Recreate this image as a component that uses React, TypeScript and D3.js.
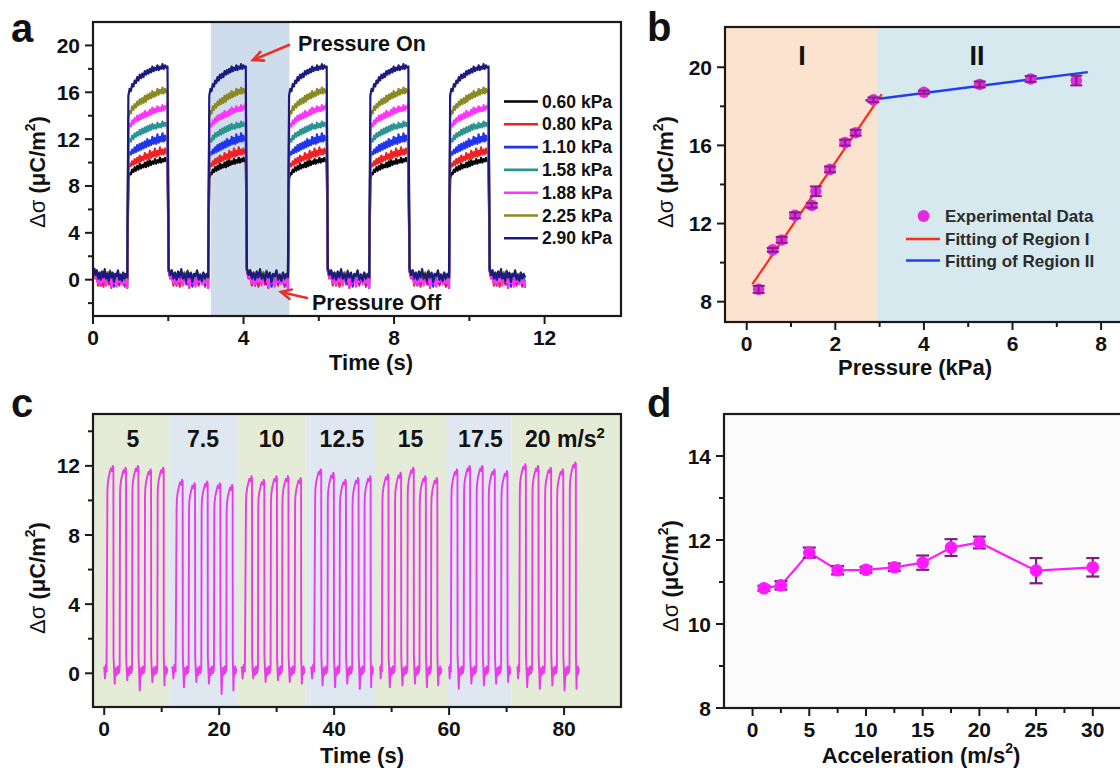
import React from 'react';
import * as d3 from 'd3';

const FONT = '"Liberation Sans", Arial, Helvetica, sans-serif';

// ---------------- Panel a data ----------------
const A_LABELS = ['0.60 kPa', '0.80 kPa', '1.10 kPa', '1.58 kPa', '1.88 kPa', '2.25 kPa', '2.90 kPa'];
const A_COLORS = ['#000000', '#ee2222', '#2233ee', '#2a9490', '#ff33ff', '#8a8a20', '#1a1a80'];
const A_RISE = [0.94, 3.09, 5.21, 7.37, 9.49];
const A_FALL = [1.98, 4.06, 6.21, 8.38, 10.51];
const A_END = 11.51;
const A_SHADE = [3.13, 5.22];
const A_P_BLACK = [8.6, 9.1, 9.0, 9.4, 9.2, 9.6, 9.3, 9.7, 9.4, 9.9, 9.5, 9.8, 9.6, 10.0, 9.6, 10.1, 9.7, 10.2, 9.8, 10.1, 9.9, 10.3, 9.9, 10.2, 10.0, 10.4, 10.0, 10.3, 10.1, 10.4, 10.1, 10.3];
const A_P_RED = [9.5, 9.9, 9.7, 10.1, 9.8, 10.3, 9.9, 10.4, 10.0, 10.6, 10.1, 10.5, 10.2, 10.8, 10.3, 10.7, 10.3, 11.0, 10.4, 10.9, 10.5, 11.2, 10.5, 11.0, 10.6, 11.3, 10.7, 11.1, 10.7, 11.2, 10.8, 11.0];
const A_P_BLUE = [10.4, 10.9, 10.7, 11.1, 10.8, 11.3, 10.9, 11.5, 11.0, 11.6, 11.1, 11.7, 11.2, 11.8, 11.3, 12.0, 11.4, 11.9, 11.5, 12.2, 11.6, 12.1, 11.6, 12.4, 11.7, 12.2, 11.8, 12.5, 11.8, 12.3, 11.9, 12.2];
const A_P_TEAL = [11.6, 12.0, 11.8, 12.3, 12.0, 12.5, 12.2, 12.6, 12.3, 12.8, 12.4, 12.9, 12.5, 13.0, 12.6, 13.1, 12.7, 13.2, 12.8, 13.3, 12.9, 13.2, 12.9, 13.4, 13.0, 13.3, 13.0, 13.5, 13.1, 13.4, 13.1, 13.4];
const A_P_MAGENTA = [12.8, 13.3, 13.1, 13.6, 13.3, 13.8, 13.5, 14.0, 13.6, 14.1, 13.7, 14.2, 13.8, 14.4, 13.9, 14.3, 14.0, 14.5, 14.1, 14.7, 14.2, 14.6, 14.3, 14.8, 14.4, 14.7, 14.4, 14.9, 14.5, 14.8, 14.6, 15.1];
const A_P_OLIVE = [13.8, 14.4, 14.2, 14.8, 14.5, 15.0, 14.7, 15.2, 14.9, 15.4, 15.0, 15.5, 15.1, 15.7, 15.2, 15.8, 15.4, 15.9, 15.5, 16.1, 15.6, 16.0, 15.7, 16.3, 15.8, 16.2, 15.9, 16.4, 15.9, 16.3, 16.0, 16.2];
const A_P_NAVY = [15.7, 16.3, 16.1, 16.7, 16.5, 17.0, 16.8, 17.3, 17.0, 17.5, 17.2, 17.6, 17.3, 17.8, 17.5, 17.9, 17.6, 18.0, 17.7, 18.2, 17.8, 18.1, 17.9, 18.3, 17.9, 18.2, 18.0, 18.4, 18.0, 18.3, 18.1, 18.2];
const A_B_BLACK = [0.8, 0.2, 0.6, -0.2, 0.4, 0.0, 0.5, -0.3, 0.3, 0.1, 0.6, -0.1, 0.3, -0.4, 0.4, 0.0, 0.2, 0.1, 0.5, -0.2, 0.3, 0.0, 0.4, -0.3, 0.2, 0.1];
const A_B_RED = [0.7, 0.1, 0.4, -0.5, 0.2, -0.3, 0.3, -0.6, 0.1, -0.2, 0.4, -0.4, 0.2, -0.7, 0.3, -0.2, 0.1, -0.3, 0.3, -0.5, 0.2, -0.1, 0.3, -0.6, 0.1, -0.2];
const A_B_BLUE = [0.8, 0.3, 0.5, -0.2, 0.4, -0.5, 0.2, 0.0, 0.5, -0.3, 0.3, 0.1, -0.4, 0.2, 0.4, -0.6, 0.2, 0.0, 0.4, -0.3, 0.3, -0.1, 0.5, -0.4, 0.2, -0.7];
const A_B_TEAL = [0.9, 0.4, 0.6, 0.1, 0.5, -0.1, 0.4, 0.2, 0.6, 0.0, 0.3, 0.5, 0.1, 0.4, -0.2, 0.3, 0.5, 0.1, 0.6, 0.0, 0.4, 0.2, 0.5, -0.1, 0.3, 0.2];
const A_B_MAGENTA = [0.8, 0.2, 0.3, -0.3, 0.2, -0.4, 0.1, -0.2, 0.3, -0.5, 0.2, -0.1, 0.1, -0.6, 0.2, -0.3, 0.0, -0.6, 0.2, -0.2, 0.3, -0.4, 0.1, -0.3, 0.0, -0.7];
const A_B_OLIVE = [1.0, 0.5, 0.8, 0.2, 0.6, 0.1, 0.7, 0.3, 0.5, 0.0, 0.6, 0.4, 0.8, 0.2, 0.5, 0.1, 0.4, 0.2, 0.7, 0.1, 0.5, 0.3, 0.6, 0.0, 0.4, 0.2];
const A_B_NAVY = [1.0, 0.4, 0.8, 0.1, 0.6, 0.0, 0.7, 0.2, 0.9, 0.1, 0.5, -0.1, 0.7, 0.2, 0.6, -0.2, 0.5, 0.3, 0.8, 0.0, 0.4, -0.1, 0.6, 0.1, 0.5, 0.2];
const A_PLATEAUS = [A_P_BLACK, A_P_RED, A_P_BLUE, A_P_TEAL, A_P_MAGENTA, A_P_OLIVE, A_P_NAVY];
const A_BASES = [A_B_BLACK, A_B_RED, A_B_BLUE, A_B_TEAL, A_B_MAGENTA, A_B_OLIVE, A_B_NAVY];
const A_DRAW_ORDER = [0, 1, 2, 3, 4, 5, 6];

// ---------------- Panel b data ----------------
const B_X = [0.27, 0.59, 0.79, 1.09, 1.47, 1.56, 1.88, 2.22, 2.46, 2.86, 4.0, 5.26, 6.41, 7.44];
const B_Y = [8.63, 10.65, 11.16, 12.42, 12.93, 13.65, 14.77, 16.14, 16.65, 18.33, 18.72, 19.12, 19.4, 19.32];
const B_ERR = [0.18, 0.1, 0.15, 0.15, 0.12, 0.25, 0.15, 0.15, 0.15, 0.12, 0.08, 0.15, 0.15, 0.25];
const B_FIT1 = [[0.13, 8.9], [3.05, 18.63]];
const B_FIT2 = [[2.68, 18.3], [7.7, 19.75]];
const B_REGION_SPLIT = 2.94;

// ---------------- Panel c data ----------------
const C_BAND_EDGES = [-1.95, 11.4, 23.3, 35.2, 47.1, 59.6, 70.9, 89.9];
const C_BAND_LABELS = ['5', '7.5', '10', '12.5', '15', '17.5', '20'];
const C_GROUP_START = [0.0, 11.85, 23.9, 36.0, 48.0, 60.0, 71.9];
const C_GROUP_END = [11.0, 23.0, 34.9, 46.8, 58.7, 70.7, 82.6];
const C_RISES = [
  [0.55, 2.75, 4.9, 7.1, 9.3],
  [12.6, 14.75, 16.95, 19.15, 21.3],
  [24.66, 26.8, 29.0, 31.0, 33.2],
  [36.7, 38.9, 41.0, 43.2, 45.3],
  [48.4, 50.6, 52.8, 54.9, 56.9],
  [60.4, 62.6, 64.8, 66.9, 69.1],
  [72.3, 74.5, 76.7, 78.8, 81.0],
];
const C_PEAKS = [
  [12.0, 11.9, 12.0, 11.8, 11.9],
  [11.2, 11.0, 11.1, 11.0, 10.9],
  [11.4, 11.2, 11.4, 11.4, 11.3],
  [11.8, 11.6, 11.2, 11.3, 11.4],
  [11.5, 11.6, 11.9, 11.4, 11.3],
  [11.8, 12.0, 12.0, 11.8, 11.7],
  [12.1, 12.0, 11.9, 11.8, 12.2],
];
const C_TROUGHS = [
  [-0.6, -0.4, -1.0, -0.5, -0.7],
  [-0.8, -0.5, -0.6, -1.2, -1.0],
  [-0.3, -0.5, -0.4, -0.5, -0.6],
  [-0.7, -0.8, -0.6, -0.9, -0.8],
  [-0.8, -0.7, -0.6, -0.8, -0.7],
  [-0.9, -0.6, -0.7, -0.6, -0.5],
  [-0.8, -0.9, -0.7, -1.0, -0.9],
];
const C_PRE = [0.4, -0.3, 0.5, 0.1];
const C_HIGH_DT = [0, 0.05, 0.2, 0.4, 0.6, 0.8, 0.95, 1.05];
const C_HIGH_DROP = [1.6, 1.1, 0.7, 0.4, 0.15, 0.3, 0.0, 0.1];
const C_LOW_FRAC = [0.02, 0.1, 0.2, 0.35, 0.5, 0.65, 0.8, 0.95];
const C_LOW_LEVEL = [1.0, 0.2, NaN, 0.3, -0.1, 0.4, 0.0, 0.3];

// ---------------- Panel d data ----------------
const D_X = [1, 2.5, 5, 7.5, 10, 12.5, 15, 17.5, 20, 25, 30];
const D_Y = [10.85, 10.92, 11.7, 11.28, 11.29, 11.35, 11.46, 11.82, 11.94, 11.27, 11.35];
const D_ERR = [0.06, 0.1, 0.12, 0.1, 0.07, 0.09, 0.17, 0.2, 0.14, 0.3, 0.22];

// ---------------- helpers ----------------
type Sc = d3.ScaleLinear<number, number>;

function Axes({ x, y, xt, xm, yt, ym }: { x: Sc; y: Sc; xt: number[]; xm: number[]; yt: number[]; ym: number[] }) {
  const [L, R] = x.range();
  const [B, T] = y.range();
  return (
    <g>
      <rect x={L} y={T} width={R - L} height={B - T} fill="none" stroke="#1a1a1a" strokeWidth={2.2} />
      {xt.map((v) => (
        <g key={'xt' + v}>
          <line x1={x(v)} x2={x(v)} y1={B} y2={B + 8} stroke="#1a1a1a" strokeWidth={2} />
          <text x={x(v)} y={B + 29} textAnchor="middle" fontSize={21} fontWeight="bold" fontFamily={FONT} fill="#111">{v}</text>
        </g>
      ))}
      {xm.map((v) => (
        <line key={'xm' + v} x1={x(v)} x2={x(v)} y1={B} y2={B + 5} stroke="#1a1a1a" strokeWidth={2} />
      ))}
      {yt.map((v) => (
        <g key={'yt' + v}>
          <line x1={L - 8} x2={L} y1={y(v)} y2={y(v)} stroke="#1a1a1a" strokeWidth={2} />
          <text x={L - 13} y={y(v) + 7.5} textAnchor="end" fontSize={21} fontWeight="bold" fontFamily={FONT} fill="#111">{v}</text>
        </g>
      ))}
      {ym.map((v) => (
        <line key={'ym' + v} x1={L - 5} x2={L} y1={y(v)} y2={y(v)} stroke="#1a1a1a" strokeWidth={2} />
      ))}
    </g>
  );
}

function YLabel({ cx, cy }: { cx: number; cy: number }) {
  return (
    <text transform={`translate(${cx + 8},${cy}) rotate(-90)`} textAnchor="middle" fontSize={22} fontWeight="bold" fontFamily={FONT} fill="#111">
      <tspan fontWeight="normal">Δσ</tspan> (μC/m<tspan dy={-10} fontSize={14}>2</tspan><tspan dy={10}>)</tspan>
    </text>
  );
}

function Letter({ x, y, t }: { x: number; y: number; t: string }) {
  return <text x={x} y={y} fontSize={40} fontWeight="bold" fontFamily={FONT} fill="#111">{t}</text>;
}

function Arrow({ x1, y1, x2, y2 }: { x1: number; y1: number; x2: number; y2: number }) {
  const ang = Math.atan2(y2 - y1, x2 - x1);
  const h = 11;
  const a1 = ang + Math.PI - 0.45;
  const a2 = ang + Math.PI + 0.45;
  return (
    <g stroke="#e8302a" strokeWidth={2.6} fill="none" strokeLinecap="round">
      <line x1={x1} y1={y1} x2={x2} y2={y2} />
      <polyline points={`${x2 + h * Math.cos(a1)},${y2 + h * Math.sin(a1)} ${x2},${y2} ${x2 + h * Math.cos(a2)},${y2 + h * Math.sin(a2)}`} />
    </g>
  );
}

// ---------------- Panel a ----------------
function PanelA() {
  const x = d3.scaleLinear().domain([0, 14.03]).range([93, 621]);
  const y = d3.scaleLinear().domain([-3.1, 22]).range([316, 22]);
  const line = d3.line<[number, number]>().x((d) => x(d[0])).y((d) => y(d[1]));
  const buildSeries = (s: number) => {
    const P = A_PLATEAUS[s];
    const Bv = A_BASES[s];
    const pts: [number, number][] = [];
    const pushBase = (a: number, b: number) => {
      const n = Bv.length;
      Bv.forEach((v, i) => pts.push([a + 0.03 + (i / (n - 1)) * (b - a - 0.06), v]));
    };
    pushBase(0, A_RISE[0]);
    A_RISE.forEach((r, k) => {
      const f = A_FALL[k];
      const n = P.length;
      P.forEach((v, i) => pts.push([r + (i / (n - 1)) * (f - r), v]));
      pushBase(f, k + 1 < A_RISE.length ? A_RISE[k + 1] : A_END);
    });
    return pts;
  };
  return (
    <g>
      <rect x={x(A_SHADE[0])} y={22} width={x(A_SHADE[1]) - x(A_SHADE[0])} height={294} fill="#cedcec" />
      {A_DRAW_ORDER.map((s) => (
        <path key={s} d={line(buildSeries(s)) || ''} fill="none" stroke={A_COLORS[s]} strokeWidth={2.2} strokeLinejoin="round" />
      ))}
      <Axes x={x} y={y} xt={[0, 4, 8, 12]} xm={[2, 6, 10]} yt={[0, 4, 8, 12, 16, 20]} ym={[-2, 2, 6, 10, 14, 18]} />
      {A_LABELS.map((lab, i) => (
        <g key={lab}>
          <line x1={504} x2={538} y1={101.5 + i * 22.8} y2={101.5 + i * 22.8} stroke={A_COLORS[i]} strokeWidth={2.6} />
          <text x={542} y={101.5 + i * 22.8 + 6} fontSize={17.5} fontWeight="bold" fontFamily={FONT} fill="#111">{lab}</text>
        </g>
      ))}
      <text x={298} y={51} fontSize={21.5} fontWeight="bold" fontFamily={FONT} fill="#111">Pressure On</text>
      <Arrow x1={289} y1={45} x2={253} y2={60} />
      <text x={312} y={310} fontSize={21.5} fontWeight="bold" fontFamily={FONT} fill="#111">Pressure Off</text>
      <Arrow x1={307} y1={298} x2={281} y2={292} />
      <text x={371} y={370} textAnchor="middle" fontSize={22} fontWeight="bold" fontFamily={FONT} fill="#111">Time (s)</text>
      <YLabel cx={37} cy={172} />
      <Letter x={11} y={42} t="a" />
    </g>
  );
}

// ---------------- Panel b ----------------
function PanelB() {
  const x = d3.scaleLinear().domain([-0.49, 9.5]).range([725, 725 + 9.99 * 44.3]);
  const y = d3.scaleLinear().domain([6.96, 22.06]).range([322, 27]);
  const [L, R] = x.range();
  return (
    <g>
      <rect x={L} y={27} width={x(B_REGION_SPLIT) - L} height={295} fill="#fbe3cf" />
      <rect x={x(B_REGION_SPLIT)} y={27} width={R - x(B_REGION_SPLIT)} height={295} fill="#d6e9ee" />
      <line x1={x(B_FIT1[0][0])} y1={y(B_FIT1[0][1])} x2={x(B_FIT1[1][0])} y2={y(B_FIT1[1][1])} stroke="#ff2a1a" strokeWidth={2.2} />
      <line x1={x(B_FIT2[0][0])} y1={y(B_FIT2[0][1])} x2={x(B_FIT2[1][0])} y2={y(B_FIT2[1][1])} stroke="#1f3ff0" strokeWidth={2.4} />
      {B_X.map((v, i) => (
        <g key={i}>
          <circle cx={x(v)} cy={y(B_Y[i])} r={5.8} fill="#e22ae2" />
          <g stroke="#8a1e8a" strokeWidth={2}>
            <line x1={x(v)} x2={x(v)} y1={y(B_Y[i] - B_ERR[i])} y2={y(B_Y[i] + B_ERR[i])} />
            <line x1={x(v) - 6} x2={x(v) + 6} y1={y(B_Y[i] - B_ERR[i])} y2={y(B_Y[i] - B_ERR[i])} />
            <line x1={x(v) - 6} x2={x(v) + 6} y1={y(B_Y[i] + B_ERR[i])} y2={y(B_Y[i] + B_ERR[i])} />
          </g>
        </g>
      ))}
      <Axes x={x} y={y} xt={[0, 2, 4, 6, 8]} xm={[1, 3, 5, 7, 9]} yt={[8, 12, 16, 20]} ym={[10, 14, 18]} />
      <text x={802} y={65} textAnchor="middle" fontSize={27} fontWeight="bold" fontFamily={FONT} fill="#111">I</text>
      <text x={977} y={65} textAnchor="middle" fontSize={27} fontWeight="bold" fontFamily={FONT} fill="#111">II</text>
      <circle cx={923.6} cy={216} r={6} fill="#e22ae2" />
      <text x={945} y={222} fontSize={17} fontWeight="bold" fontFamily={FONT} fill="#2b2b2b">Experimental Data</text>
      <line x1={906} x2={940} y1={239} y2={239} stroke="#ff2a1a" strokeWidth={2.4} />
      <text x={945} y={245} fontSize={17} fontWeight="bold" fontFamily={FONT} fill="#2b2b2b">Fitting of Region I</text>
      <line x1={906} x2={940} y1={260.5} y2={260.5} stroke="#1f3ff0" strokeWidth={2.4} />
      <text x={945} y={266.5} fontSize={17} fontWeight="bold" fontFamily={FONT} fill="#2b2b2b">Fitting of Region II</text>
      <text x={915} y={375} textAnchor="middle" fontSize={22} fontWeight="bold" fontFamily={FONT} fill="#111">Pressure (kPa)</text>
      <YLabel cx={665} cy={172} />
      <Letter x={647} y={41} t="b" />
    </g>
  );
}

// ---------------- Panel c ----------------
function PanelC() {
  const x = d3.scaleLinear().domain([-1.95, 89.9]).range([93, 621]);
  const y = d3.scaleLinear().domain([-1.95, 15]).range([707, 414]);
  const line = d3.line<[number, number]>().x((d) => x(d[0])).y((d) => y(d[1]));
  const groups = C_RISES.map((rises, g) => {
    const pts: [number, number][] = [];
    const start = C_GROUP_START[g];
    C_PRE.forEach((v, i) => pts.push([start + (i / C_PRE.length) * (rises[0] - start), v]));
    rises.forEach((r, k) => {
      const P = C_PEAKS[g][k];
      C_HIGH_DT.forEach((dt, i) => pts.push([r + dt, P - C_HIGH_DROP[i]]));
      const f = r + C_HIGH_DT[C_HIGH_DT.length - 1];
      const next = k + 1 < rises.length ? rises[k + 1] : C_GROUP_END[g];
      C_LOW_FRAC.forEach((fr, i) => {
        const lv = isNaN(C_LOW_LEVEL[i]) ? C_TROUGHS[g][k] : C_LOW_LEVEL[i];
        pts.push([f + fr * (next - f), lv]);
      });
    });
    return pts;
  });
  return (
    <g>
      {C_BAND_LABELS.map((lab, i) => (
        <rect key={'band' + i} x={x(C_BAND_EDGES[i])} y={414} width={x(C_BAND_EDGES[i + 1]) - x(C_BAND_EDGES[i])} height={293} fill={i % 2 === 0 ? '#e4ebd7' : '#dfe7f1'} />
      ))}
      {groups.map((pts, g) => (
        <path key={g} d={line(pts) || ''} fill="none" stroke="#ea3aea" strokeWidth={1.9} strokeLinejoin="round" />
      ))}
      <Axes x={x} y={y} xt={[0, 20, 40, 60, 80]} xm={[10, 30, 50, 70]} yt={[0, 4, 8, 12]} ym={[2, 6, 10, 14]} />
      {C_BAND_LABELS.slice(0, 6).map((lab, i) => (
        <text key={lab} x={[133, 203, 271.5, 342, 410.5, 480.5][i]} y={447} textAnchor="middle" fontSize={23} fontWeight="bold" fontFamily={FONT} fill="#111">{lab}</text>
      ))}
      <text x={525} y={447} fontSize={23} fontWeight="bold" fontFamily={FONT} fill="#111">
        20 m/s<tspan dy={-9} fontSize={15}>2</tspan>
      </text>
      <text x={362} y={763} textAnchor="middle" fontSize={22} fontWeight="bold" fontFamily={FONT} fill="#111">Time (s)</text>
      <YLabel cx={37} cy={578} />
      <Letter x={11} y={417} t="c" />
    </g>
  );
}

// ---------------- Panel d ----------------
function PanelD() {
  const x = d3.scaleLinear().domain([-2.52, 36.5]).range([724, 724 + 39.02 * 11.34]);
  const y = d3.scaleLinear().domain([8, 15]).range([708, 414]);
  const line = d3.line<number>().x((d, i) => x(D_X[i])).y((d) => y(d));
  return (
    <g>
      <rect x={724} y={414} width={500} height={294} fill="#fbfbfb" />
      <path d={line(D_Y) || ''} fill="none" stroke="#ff1aff" strokeWidth={2.2} />
      {D_X.map((v, i) => (
        <g key={i}>
          <g stroke="#7d1f7d" strokeWidth={2.2}>
            <line x1={x(v)} x2={x(v)} y1={y(D_Y[i] - D_ERR[i])} y2={y(D_Y[i] + D_ERR[i])} />
            <line x1={x(v) - 6.5} x2={x(v) + 6.5} y1={y(D_Y[i] - D_ERR[i])} y2={y(D_Y[i] - D_ERR[i])} />
            <line x1={x(v) - 6.5} x2={x(v) + 6.5} y1={y(D_Y[i] + D_ERR[i])} y2={y(D_Y[i] + D_ERR[i])} />
          </g>
          <circle cx={x(v)} cy={y(D_Y[i])} r={6.3} fill="#ff1aff" />
        </g>
      ))}
      <Axes x={x} y={y} xt={[0, 5, 10, 15, 20, 25, 30]} xm={[2.5, 7.5, 12.5, 17.5, 22.5, 27.5, 32.5]} yt={[8, 10, 12, 14]} ym={[9, 11, 13]} />
      <text x={921} y={763} textAnchor="middle" fontSize={22} fontWeight="bold" fontFamily={FONT} fill="#111">
        Acceleration (m/s<tspan dy={-10} fontSize={14}>2</tspan><tspan dy={10}>)</tspan>
      </text>
      <YLabel cx={670} cy={576} />
      <Letter x={647} y={417} t="d" />
    </g>
  );
}

export default function App() {
  return (
    <svg width={1120} height={770} viewBox="0 0 1120 770" style={{ position: 'absolute', left: 0, top: 0, background: '#ffffff' }}>
      <rect x={0} y={0} width={1120} height={770} fill="#ffffff" />
      <PanelA />
      <PanelB />
      <PanelC />
      <PanelD />
    </svg>
  );
}
